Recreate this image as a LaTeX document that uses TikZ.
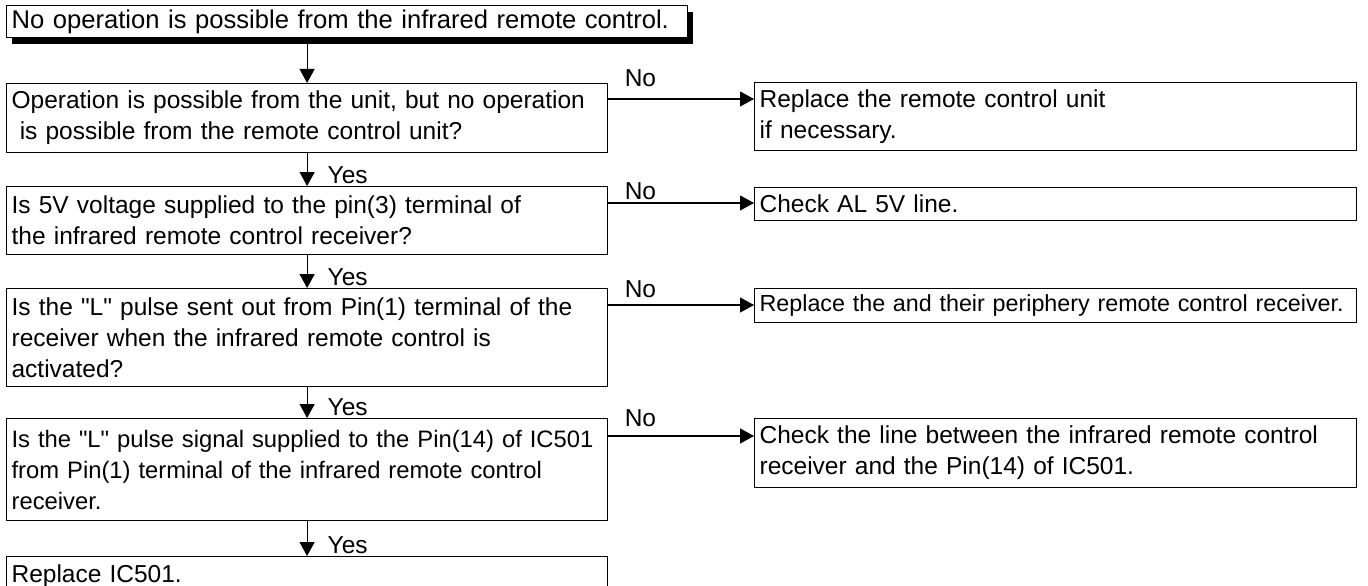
\documentclass[tikz,border=0pt]{standalone}
\usepackage{fontspec}
\setmainfont{Liberation Sans}
\usetikzlibrary{arrows.meta,shadows}

\begin{document}
\begin{tikzpicture}[x=1pt, y=-1pt, line width=1.2pt,
  box/.style={draw, fill=white, anchor=north west, align=left,
    inner xsep=5pt, inner ysep=0pt, font=\fontsize{24.5pt}{31pt}\selectfont},
  qbox/.style={box, text width=591pt},
  rbox/.style={box, text width=592pt},
  lbl/.style={inner sep=0pt, font=\fontsize{24.5pt}{28pt}\selectfont},
  arr/.style={-{Triangle[length=14pt,width=15pt]}}]
  \useasboundingbox (0,0) rectangle (1368,586);
  \clip (0,0) rectangle (1368,586);

  % 开始
  \node[box, text width=671pt, minimum height=32pt,
    font=\fontsize{25.6pt}{31pt}\selectfont,
    drop shadow={shadow xshift=5pt, shadow yshift=-6pt, fill=black, opacity=1}]
    (start) at (6,5) {No operation is possible from the infrared remote control.};

  % 判断
  \node[qbox, minimum height=69pt] (q1) at (6,83)
    {Operation is possible from the unit, but no operation\\\ is possible from the remote control unit?};
  \node[qbox, minimum height=68pt] (q2) at (6,186)
    {Is 5V voltage supplied to the pin(3) terminal of\\the infrared remote control receiver?};
  \node[qbox, minimum height=98pt] (q3) at (6,288)
    {Is the \textquotedbl L\textquotedbl{} pulse sent out from Pin(1) terminal of the\\receiver when the infrared remote control is\\activated?};
  \node[qbox, minimum height=102pt, font=\fontsize{23.8pt}{31pt}\selectfont] (q4) at (6,418)
    {Is the \textquotedbl L\textquotedbl{} pulse signal supplied to the Pin(14) of IC501\\from Pin(1) terminal of the infrared remote control\\receiver.};
  \node[qbox, minimum height=40pt] (fin) at (6,556) {Replace IC501.};

  % 处理
  \node[rbox, minimum height=68pt] (r1) at (754,82)
    {Replace the remote control unit\\if necessary.};
  \node[rbox, minimum height=33pt] (r2) at (754,187) {Check AL 5V line.};
  \node[rbox, minimum height=34pt, font=\fontsize{23.3pt}{31pt}\selectfont] (r3) at (754,288)
    {Replace the and their periphery remote control receiver.};
  \node[rbox, minimum height=69pt] (r4) at (754,418)
    {Check the line between the infrared remote control\\receiver and the Pin(14) of IC501.};

  % Yes
  \draw[arr] (q1.north |- start.south) -- (q1.north);
  \draw[arr] (q1.south) -- (q2.north)
    node[lbl, anchor=base west, xshift=20pt, yshift=3pt] (yes1) {Yes};
  \draw[arr] (q2.south) -- (q3.north)
    node[lbl, anchor=base west, xshift=20pt, yshift=3pt] (yes2) {Yes};
  \draw[arr] (q3.south) -- (q4.north)
    node[lbl, anchor=base west, xshift=20pt, yshift=3pt] (yes3) {Yes};
  \draw[arr] (q4.south) -- (fin.north)
    node[lbl, anchor=base west, xshift=20pt, yshift=3pt] (yes4) {Yes};

  % No
  \coordinate (n1) at ([yshift=-16pt]q1.north east);
  \coordinate (n2) at ([yshift=-17pt]q2.north east);
  \coordinate (n3) at ([yshift=-17pt]q3.north east);
  \coordinate (n4) at ([yshift=-18pt]q4.north east);
  \draw[arr] (n1) node[lbl, anchor=base west, xshift=16pt, yshift=13pt] (no1) {No} -- (n1 -| r1.west);
  \draw[arr] (n2) node[lbl, anchor=base west, xshift=16pt, yshift=4pt] (no2) {No} -- (n2 -| r2.west);
  \draw[arr] (n3) node[lbl, anchor=base west, xshift=16pt, yshift=8pt] (no3) {No} -- (n3 -| r3.west);
  \draw[arr] (n4) node[lbl, anchor=base west, xshift=16pt, yshift=10pt] (no4) {No} -- (n4 -| r4.west);
\end{tikzpicture}
\end{document}
